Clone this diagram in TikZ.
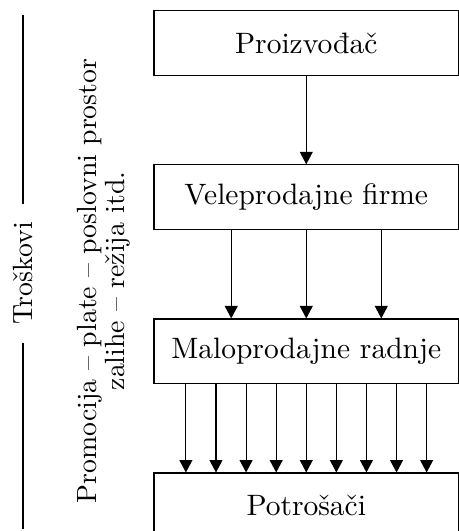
\documentclass[tikz,border=0pt]{standalone}
\usetikzlibrary{positioning,arrows.meta}

\begin{document}
\begin{tikzpicture}[
	% common look of the chain boxes and the flow arrows
	font=\fontsize{10.35}{10}\selectfont,
	stage/.style={draw, line width=0.4pt, minimum width=3.754cm, minimum height=0.795cm, inner sep=0pt},
	flow/.style={-{Triangle[width=0.16cm,length=0.154cm]}, line width=0.4pt},
	side/.style={rotate=90, font=\fontsize{9.75}{9.8}\selectfont},
	node distance=1.091cm
	]
	\pgfmathsetmacro{\WholesaleGap}{0.925}
	\pgfmathsetmacro{\RetailGap}{0.371}
	\useasboundingbox (0,0) rectangle (5.659,-6.547);
	% the chain
	\node[stage] (Proizvodjac) at (3.776,-0.530) {Proizvođač};
	\node[stage, below=of Proizvodjac] (Veleprodaja) {Veleprodajne firme};
	\node[stage, below=of Veleprodaja] (Maloprodaja) {Maloprodajne radnje};
	\node[stage, below=of Maloprodaja] (Potrosaci) {Potrošači};
	\draw[flow] (Proizvodjac) -- (Veleprodaja);
	\foreach \i in {-1,0,1}
		\draw[flow] ([xshift=\i*\WholesaleGap cm]Veleprodaja.south) -- ([xshift=\i*\WholesaleGap cm]Maloprodaja.north);
	\foreach \i in {-4,...,4}
		\draw[flow] ([xshift=\i*\RetailGap cm]Maloprodaja.south) -- ([xshift=\i*\RetailGap cm]Potrosaci.north);
	% costs on the left
	\coordinate (CostTop) at (0.284,-0.185);
	\coordinate (CostBottom) at (0.284,-6.523);
	\node[side, inner xsep=6pt] (Troskovi) at (0.284,-3.372) {Troškovi};
	\draw[line width=0.4pt] (CostTop) -- (Troskovi) -- (CostBottom);
	\node[side, align=center] (Stavke) at (1.282,-3.465) {Promocija -- plate -- poslovni prostor\\zalihe -- režija itd.};
\end{tikzpicture}
\end{document}
